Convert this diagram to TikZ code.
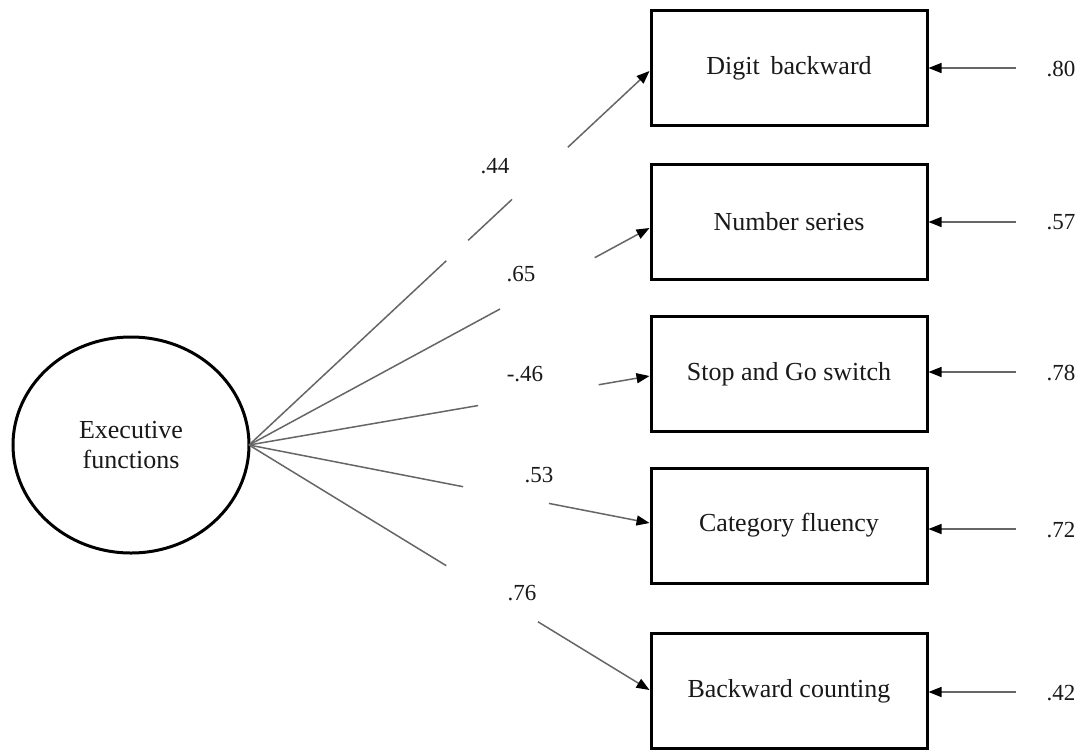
\documentclass[tikz,border=0pt]{standalone}
\usepackage{fontspec}
\setmainfont{Liberation Serif}
\usetikzlibrary{arrows.meta,calc,shapes.geometric}
\begin{document}
\begin{tikzpicture}[x=1pt,y=-1pt,
  latent/.style={ellipse,draw=black,line width=3pt,minimum width=236pt,minimum height=216pt,
    inner sep=0pt,outer sep=0pt,align=center,text=black!90,font=\fontsize{26}{30}\selectfont},
  observed/.style={rectangle,draw=black,line width=3pt,minimum width=276pt,minimum height=115pt,
    outer sep=1.5pt,text=black!90,font=\fontsize{26}{30}\selectfont},
  coef/.style={inner sep=0pt,text=black!90,font=\fontsize{23}{27}\selectfont},
  link/.style={draw=black!60,line width=1.5pt},
  loadarrow/.style={link,-{Triangle[length=13pt,width=10pt,color=black]}}]

\useasboundingbox (0,0) rectangle (1083,750);
\fill[white] (0,0) rectangle (1083,750);

% latent factor
\node[latent] (ef) at (131,445) {Executive\\functions};

% indicators
\node[observed] (b1) at (789,68)    {Digit\, backward};
\node[observed] (b2) at (789,221.5) {Number series};
\node[observed] (b3) at (789,374)   {Stop and Go switch};
\node[observed] (b4) at (789,525.5) {Category fluency};
\node[observed] (b5) at (789,691)   {Backward counting};

% arrow targets on the left sides of the boxes
\coordinate (t1) at ([yshift=-3pt]b1.west);
\coordinate (t2) at ([yshift=-6.5pt]b2.west);
\coordinate (t3) at ([yshift=-2pt]b3.west);
\coordinate (t4) at ([yshift=2.5pt]b4.west);
\coordinate (t5) at ([yshift=1pt]b5.west);

% factor loadings (paths interrupted around the coefficients)
\draw[link] (ef.east) -- ($(ef.east)!0.4925!(t1)$);
\draw[link] ($(ef.east)!0.5473!(t1)$) -- ($(ef.east)!0.6567!(t1)$);
\draw[loadarrow] ($(ef.east)!0.7960!(t1)$) -- (t1);

\draw[link] (ef.east) -- ($(ef.east)!0.6269!(t2)$);
\draw[loadarrow] ($(ef.east)!0.8632!(t2)$) -- (t2);

\draw[link] (ef.east) -- ($(ef.east)!0.5721!(t3)$);
\draw[loadarrow] ($(ef.east)!0.8731!(t3)$) -- (t3);

\draw[link] (ef.east) -- ($(ef.east)!0.5348!(t4)$);
\draw[loadarrow] ($(ef.east)!0.7488!(t4)$) -- (t4);

\draw[link] (ef.east) -- ($(ef.east)!0.4925!(t5)$);
\draw[loadarrow] ($(ef.east)!0.7214!(t5)$) -- (t5);

% loading coefficients
\node[coef] (l1) at (495,166) {.44};
\node[coef] (l2) at (521,274) {.65};
\node[coef] (l3) at (525,374) {-.46};
\node[coef] (l4) at (539,475) {.53};
\node[coef] (l5) at (522,593) {.76};

% residual terms
\node[coef] (e1) at (1061,69)  {.80};
\node[coef] (e2) at (1061,222) {.57};
\node[coef] (e3) at (1061,373) {.78};
\node[coef] (e4) at (1061,530) {.72};
\node[coef] (e5) at (1061,693) {.42};

\coordinate (r1) at (1016,68);
\coordinate (r2) at (1016,222);
\coordinate (r3) at (1016,372);
\coordinate (r4) at (1016,529);
\coordinate (r5) at (1016,692);

\draw[loadarrow] (r1) -- (b1.east |- r1);
\draw[loadarrow] (r2) -- (b2.east |- r2);
\draw[loadarrow] (r3) -- (b3.east |- r3);
\draw[loadarrow] (r4) -- (b4.east |- r4);
\draw[loadarrow] (r5) -- (b5.east |- r5);
\end{tikzpicture}
\end{document}
